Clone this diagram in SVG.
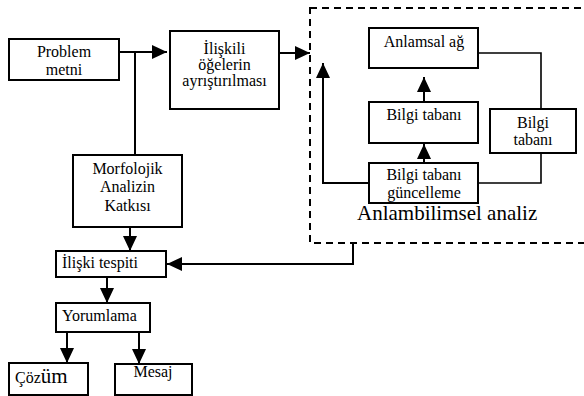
<svg xmlns="http://www.w3.org/2000/svg" width="584" height="396" viewBox="0 0 584 396">
<style>
  .box { fill: #fff; stroke: #000; stroke-width: 2; }
  .t { font-family: "Liberation Serif", "Times New Roman", serif; font-size: 16px; fill: #000; }
  .big { font-size: 21px; }
  .c { text-anchor: middle; }
  .ln { fill: none; stroke: #000; stroke-width: 2; }
  .thin { fill: none; stroke: #000; stroke-width: 1.6; }
  .dash { fill: none; stroke: #000; stroke-width: 2; stroke-dasharray: 7 5; }
</style>
<defs>
  <marker id="ah" markerUnits="userSpaceOnUse" markerWidth="15" markerHeight="14" refX="15" refY="7" orient="auto">
    <path d="M0,0 L15,7 L0,14 Z" fill="#000"/>
  </marker>
</defs>
<rect width="584" height="396" fill="#fff"/>

<g id="semantic-group">
  <rect class="dash" x="310" y="8" width="290" height="235"/>
  <text class="t big" x="357" y="220">Anlambilimsel analiz</text>
</g>

<g id="connectors">
  <line class="ln" x1="119" y1="52" x2="167" y2="52" marker-end="url(#ah)"/>
  <line class="ln" x1="135" y1="52" x2="135" y2="155"/>
  <line class="ln" x1="279" y1="53" x2="310" y2="53" marker-end="url(#ah)"/>
  <line class="ln" x1="130" y1="227" x2="130" y2="251" marker-end="url(#ah)"/>
  <polyline class="ln" points="353,243 353,264 167,264" marker-end="url(#ah)"/>
  <line class="ln" x1="107" y1="277" x2="107" y2="303" marker-end="url(#ah)"/>
  <line class="ln" x1="67" y1="332" x2="67" y2="363" marker-end="url(#ah)"/>
  <line class="ln" x1="139" y1="332" x2="139" y2="364" marker-end="url(#ah)"/>
  <line class="ln" x1="424" y1="163" x2="424" y2="144" marker-end="url(#ah)"/>
  <line class="ln" x1="424" y1="102" x2="424" y2="77" marker-end="url(#ah)"/>
  <polyline class="ln" points="369,183 323,183 323,63" marker-end="url(#ah)"/>
  <polyline class="thin" points="478,53 541,53 541,109"/>
  <polyline class="thin" points="541,153 541,183 478,183"/>
</g>

<g id="problem-metni">
  <rect class="box" x="9" y="39" width="110" height="41"/>
  <text class="t c" x="64" y="57">Problem</text>
  <text class="t c" x="64" y="75">metni</text>
</g>

<g id="iliskili">
  <rect class="box" x="170" y="31" width="109" height="78"/>
  <text class="t c" x="224.5" y="54">İlişkili</text>
  <text class="t c" x="224.5" y="70">öğelerin</text>
  <text class="t c" x="224.5" y="86">ayrıştırılması</text>
</g>

<g id="morfolojik">
  <rect class="box" x="73" y="155" width="109" height="72"/>
  <text class="t c" x="127.5" y="174">Morfolojik</text>
  <text class="t c" x="127.5" y="192">Analizin</text>
  <text class="t c" x="127.5" y="211">Katkısı</text>
</g>

<g id="iliski-tespiti">
  <rect class="box" x="56" y="251" width="110" height="26"/>
  <text class="t" x="62" y="268">İlişki tespiti</text>
</g>

<g id="yorumlama">
  <rect class="box" x="56" y="303" width="94" height="29"/>
  <text class="t" x="62" y="321">Yorumlama</text>
</g>

<g id="cozum">
  <rect class="box" x="9" y="363" width="79" height="32"/>
  <text class="t" x="15" y="383"><tspan>Çöz</tspan><tspan class="big">üm</tspan></text>
</g>

<g id="mesaj">
  <rect class="box" x="115" y="364" width="77" height="31"/>
  <text class="t c" x="153" y="377">Mesaj</text>
</g>

<g id="anlamsal-ag">
  <rect class="box" x="369" y="28" width="109" height="40"/>
  <text class="t c" x="424" y="47">Anlamsal ağ</text>
</g>

<g id="bilgi-tabani">
  <rect class="box" x="369" y="102" width="109" height="41"/>
  <text class="t c" x="424" y="120">Bilgi tabanı</text>
</g>

<g id="bilgi-tabani-guncelleme">
  <rect class="box" x="369" y="163" width="109" height="40"/>
  <text class="t c" x="424" y="180">Bilgi tabanı</text>
  <text class="t c" x="424" y="198">güncelleme</text>
</g>

<g id="bilgi-tabani-sag">
  <rect class="box" x="490" y="109" width="86" height="44"/>
  <text class="t c" x="533" y="128">Bilgi</text>
  <text class="t c" x="533" y="145">tabanı</text>
</g>
</svg>
